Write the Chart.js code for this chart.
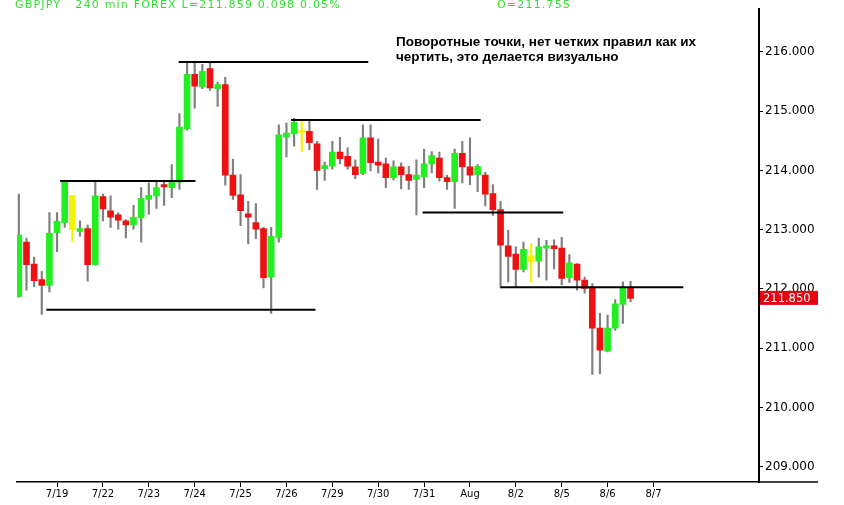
<!DOCTYPE html>
<html>
<head>
<meta charset="utf-8">
<script src="https://cdn.jsdelivr.net/npm/chart.js@4.4.0/dist/chart.umd.min.js"></script>
<style>
  html, body { margin: 0; padding: 0; background: #ffffff; }
  #wrap { width: 844px; height: 505px; position: relative; }
</style>
</head>
<body>
<div id="wrap"><canvas id="chart"></canvas></div>
<script>
// 240 min candles, one per index
const OPEN  = [211.87, 212.79, 212.42, 212.16, 212.06, 212.95, 213.12, 213.58, 212.97, 213.02,
               212.41, 213.56, 213.32, 213.25, 213.15, 213.08, 213.20, 213.51, 213.57, 213.76,
               213.71, 213.80, 214.70, 215.62, 215.41, 215.72, 215.38, 215.45, 213.92, 213.59,
               213.27, 213.12, 213.02, 212.20, 212.87, 214.56, 214.62, 214.67, 214.66, 214.45,
               214.03, 214.07, 214.31, 214.24, 214.06, 213.95, 214.55, 214.14, 214.11, 213.88,
               214.06, 213.93, 213.85, 213.89, 214.11, 214.21, 213.88, 213.81, 214.29, 214.06,
               213.93, 213.92, 213.61, 213.34, 212.73, 212.59, 212.33, 212.56, 212.47, 212.69,
               212.73, 212.69, 212.19, 212.42, 212.15, 212.02, 211.34, 210.95, 211.34, 211.74,
               212.02];
const HIGH  = [213.60, 212.86, 212.54, 212.30, 213.29, 213.29, 213.83, 213.58, 213.15, 213.08,
               213.82, 213.60, 213.57, 213.29, 213.17, 213.41, 213.71, 213.79, 213.80, 213.82,
               214.10, 214.96, 215.83, 215.83, 215.79, 215.81, 215.49, 215.57, 214.19, 213.93,
               213.48, 213.44, 213.04, 213.04, 214.77, 214.80, 214.88, 214.84, 214.84, 214.49,
               214.14, 214.49, 214.56, 214.38, 214.18, 214.77, 214.77, 214.53, 214.21, 214.16,
               214.13, 214.07, 214.18, 214.36, 214.32, 214.31, 213.92, 214.36, 214.49, 214.55,
               214.10, 213.97, 213.76, 213.48, 212.99, 212.71, 212.79, 212.76, 212.86, 212.82,
               212.83, 212.87, 212.58, 212.43, 212.20, 212.09, 211.59, 211.56, 211.82, 212.12,
               212.13];
const LOW   = [211.86, 211.98, 212.04, 211.57, 211.95, 212.63, 213.04, 212.80, 212.89, 212.13,
               212.40, 213.15, 213.04, 213.01, 212.86, 213.01, 212.79, 213.26, 213.36, 213.41,
               213.54, 213.68, 214.68, 215.05, 215.38, 215.35, 215.08, 213.75, 213.51, 213.07,
               212.76, 212.85, 212.02, 211.59, 212.79, 214.23, 214.41, 214.32, 214.35, 213.68,
               213.83, 214.02, 214.11, 214.02, 213.86, 213.93, 213.99, 213.96, 213.71, 213.84,
               213.69, 213.68, 213.25, 213.71, 213.96, 213.82, 213.68, 213.36, 213.79, 213.76,
               213.64, 213.40, 213.24, 212.02, 212.12, 212.04, 212.29, 212.12, 212.20, 212.15,
               212.34, 212.07, 212.11, 211.98, 211.93, 210.56, 210.57, 210.94, 211.30, 211.42,
               211.78];
const CLOSE = [212.91, 212.41, 212.14, 212.06, 212.94, 213.14, 213.82, 213.00, 213.02, 212.41,
               213.57, 213.35, 213.21, 213.16, 213.08, 213.21, 213.53, 213.58, 213.71, 213.72,
               213.80, 214.73, 215.62, 215.42, 215.67, 215.39, 215.45, 213.92, 213.58, 213.32,
               213.21, 213.01, 212.19, 212.89, 214.60, 214.63, 214.81, 214.64, 214.47, 214.00,
               214.08, 214.31, 214.20, 214.07, 213.93, 214.55, 214.13, 214.09, 213.88, 214.06,
               213.93, 213.83, 213.92, 214.11, 214.25, 213.88, 213.81, 214.29, 214.06, 213.92,
               214.07, 213.60, 213.34, 212.74, 212.55, 212.33, 212.67, 212.46, 212.71, 212.73,
               212.68, 212.18, 212.44, 212.15, 212.01, 211.34, 210.97, 211.34, 211.75, 212.01,
               211.84];
const YELLOW_BARS = [7, 37, 67];

// first candle of each trading day and its label
const DAY_TICKS  = [5, 11, 17, 23, 29, 35, 41, 47, 53, 59, 65, 71, 77, 83];
const DAY_LABELS = ['7/19', '7/22', '7/23', '7/24', '7/25', '7/26', '7/29', '7/30', '7/31', 'Aug', '8/2', '8/5', '8/6', '8/7'];
const PRICE_TICKS = [209, 210, 211, 212, 213, 214, 215, 216];

// hand drawn turning-point levels
const LEVEL_FROM  = [20.9, 5.4, 35.6, 3.6, 52.8, 63.0];
const LEVEL_TO    = [45.7, 23.1, 60.4, 38.8, 71.2, 86.9];
const LEVEL_PRICE = [215.83, 213.82, 214.85, 211.65, 213.29, 212.03];

const LAST_PRICE = 211.85;
const HEADER = 'GBPJPY   240 min FOREX L=211.859 0.098 0.05%';
const HEADER_OPEN = 'O=211.755';
const NOTE_LINES = ['Поворотные точки, нет четких правил как их', 'чертить, это делается визуально'];

const GREEN = '#22ee22';
const RED = '#ee1111';
const YELLOW = '#f4f400';

const bodyColors = OPEN.map((o, i) => YELLOW_BARS.includes(i) ? YELLOW : (CLOSE[i] > o ? GREEN : RED));
const wickColors = OPEN.map((o, i) => YELLOW_BARS.includes(i) ? YELLOW : '#808080');

const levelSets = LEVEL_PRICE.map((p, i) => ({
  type: 'line',
  data: [{ x: LEVEL_FROM[i], y: p }, { x: LEVEL_TO[i], y: p }],
  borderColor: '#000000',
  borderWidth: 2,
  pointRadius: 0,
  order: -1
}));

const overlay = {
  id: 'overlay',
  afterDraw(chart) {
    const { ctx, chartArea, scales } = chart;
    ctx.save();

    // bottom axis line runs on under the price scale
    ctx.strokeStyle = '#000000';
    ctx.lineWidth = 1.5;
    ctx.beginPath();
    ctx.moveTo(chartArea.right, chartArea.bottom);
    ctx.lineTo(818, chartArea.bottom);
    ctx.stroke();

    // last price tag
    const py = scales.y.getPixelForValue(LAST_PRICE);
    ctx.fillStyle = '#e8000b';
    ctx.fillRect(chartArea.right + 1, py - 7, 58, 14);
    ctx.fillStyle = '#ffffff';
    ctx.font = '11.5px "DejaVu Sans"';
    ctx.textBaseline = 'middle';
    ctx.textAlign = 'left';
    ctx.fillText(LAST_PRICE.toFixed(3), chartArea.right + 4, py + 1);

    // quote header
    ctx.fillStyle = '#33dd33';
    ctx.font = '11px "DejaVu Sans"';
    ctx.letterSpacing = '1.2px';
    ctx.fillText(HEADER, 15, 5);
    ctx.fillText(HEADER_OPEN, 497, 5);
    ctx.letterSpacing = '0px';

    // note
    ctx.fillStyle = '#000000';
    ctx.font = 'bold 13.5px "Liberation Sans"';
    NOTE_LINES.forEach((t, i) => ctx.fillText(t, 396, 42 + i * 15));
    ctx.restore();
  }
};

new Chart(document.getElementById('chart'), {
  type: 'bar',
  data: {
    datasets: [
      ...levelSets,
      {
        data: OPEN.map((o, i) => ({ x: i, y: [o, CLOSE[i]] })),
        backgroundColor: bodyColors,
        barThickness: 6,
        minBarLength: 2,
        grouped: false,
        order: 0
      },
      {
        data: LOW.map((l, i) => ({ x: i, y: [l, HIGH[i]] })),
        backgroundColor: wickColors,
        barThickness: 1.5,
        grouped: false,
        order: 1
      }
    ]
  },
  options: {
    responsive: true,
    maintainAspectRatio: false,
    animation: false,
    layout: { padding: { left: 17, top: 5, right: 0, bottom: 0 } },
    plugins: {
      legend: { display: false },
      tooltip: { enabled: false }
    },
    scales: {
      x: {
        type: 'linear',
        min: -0.24,
        max: 96.8,
        offset: false,
        afterBuildTicks: (scale) => { scale.ticks = DAY_TICKS.map(v => ({ value: v })); },
        afterFit: (scale) => { scale.height = 23; },
        grid: { drawOnChartArea: false, offset: false, color: '#000000', tickLength: 5 },
        border: { display: true, color: '#000000', width: 1.5 },
        ticks: {
          autoSkip: false,
          maxRotation: 0,
          padding: 1,
          color: '#000000',
          font: { family: '"DejaVu Sans"', size: 10 },
          callback: (v) => DAY_LABELS[DAY_TICKS.indexOf(v)]
        }
      },
      y: {
        position: 'right',
        min: 208.744,
        max: 216.72,
        afterBuildTicks: (scale) => { scale.ticks = PRICE_TICKS.map(v => ({ value: v })); },
        afterFit: (scale) => { scale.width = 85; },
        grid: { drawOnChartArea: false, color: '#000000', tickLength: 4 },
        border: { display: true, color: '#000000', width: 2 },
        ticks: {
          padding: 2,
          color: '#000000',
          font: { family: '"DejaVu Sans"', size: 12 },
          callback: (v) => v.toFixed(3)
        }
      }
    }
  },
  plugins: [overlay]
});
</script>
</body>
</html>
